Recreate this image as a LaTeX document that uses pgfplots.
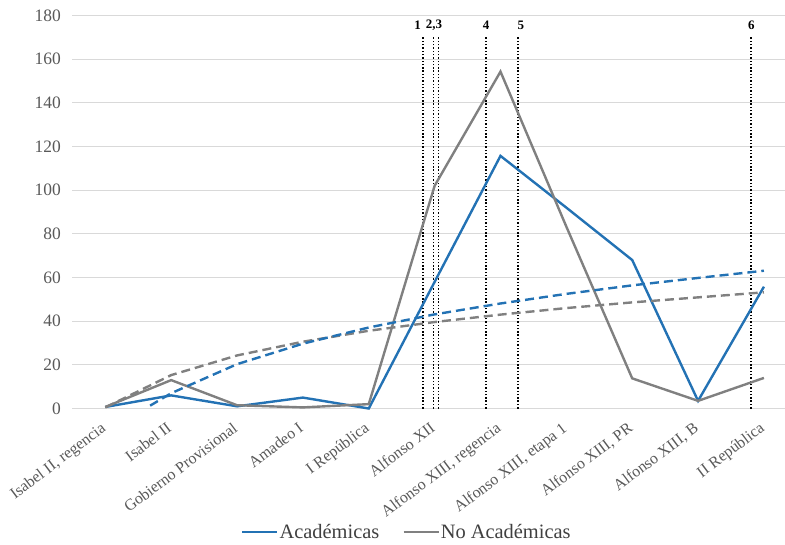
\documentclass[border=0pt]{standalone}
\usepackage{pgfplots}
\pgfplotsset{compat=1.18}
\usepackage{fontspec}
\setmainfont{Liberation Serif}
\definecolor{acad}{RGB}{35,114,180}
\definecolor{noacad}{RGB}{128,128,128}
\definecolor{gridc}{RGB}{217,217,217}
\definecolor{tickc}{RGB}{89,89,89}
\definecolor{legc}{RGB}{64,64,64}
\begin{document}
\begin{tikzpicture}
\path[use as bounding box] (0,0) rectangle (785bp,545bp);
\begin{axis}[
  at={(72bp,136.5bp)}, anchor=south west,
  scale only axis, width=713bp, height=393bp,
  xmin=-0.506, xmax=10.32, ymin=0, ymax=180,
  axis line style={draw=none},
  ymajorgrids, grid style={gridc, line width=1.2bp},
  ytick={0,20,...,180},
  xtick={0,...,10},
  xticklabels={{Isabel II, regencia}, Isabel II, Gobierno Provisional, Amadeo I, I República, Alfonso XII, {Alfonso XIII, regencia}, {Alfonso XIII, etapa 1}, {Alfonso XIII, PR}, {Alfonso XIII, B}, II República},
  /pgf/number format/assume math mode=true,
  yticklabel style={font=\fontsize{17.5}{19}\selectfont, text=tickc, anchor=east, inner sep=0pt, xshift=-11bp},
  xticklabel style={font=\fontsize{16}{18}\selectfont, text=tickc, rotate=37, anchor=north east, inner sep=0pt, yshift=-7bp, xshift=-12bp},
  major tick length=0pt,
  clip=false,
  legend columns=2,
  legend style={at={(0.2328,-0.314)}, anchor=west, draw=none, fill=none,
    font=\fontsize{20.5}{22}\selectfont, text=legc,
    nodes={inner sep=1bp},
    /tikz/every even column/.append style={column sep=22bp}},
  legend image code/.code={\draw[#1] (0bp,0bp) -- (35bp,0bp);},
]
% vertical dotted reference lines
\addplot[forget plot, black, line width=1.6bp, dash pattern=on 1.4bp off 1.9bp] coordinates {(4.82,0) (4.82,170)};
\addplot[forget plot, black, line width=1.6bp, dash pattern=on 1.4bp off 1.9bp] coordinates {(4.98,0) (4.98,170)};
\addplot[forget plot, black, line width=1.6bp, dash pattern=on 1.4bp off 1.9bp] coordinates {(5.06,0) (5.06,170)};
\addplot[forget plot, black, line width=1.6bp, dash pattern=on 1.4bp off 1.9bp] coordinates {(5.78,0) (5.78,170)};
\addplot[forget plot, black, line width=1.6bp, dash pattern=on 1.4bp off 1.9bp] coordinates {(6.27,0) (6.27,170)};
\addplot[forget plot, black, line width=1.6bp, dash pattern=on 1.4bp off 1.9bp] coordinates {(9.80,0) (9.80,170)};
% main series
\addplot[acad, line width=2.4bp, line join=miter] coordinates {
 (0,0.7) (1,6) (2,1) (3,5) (4,0) (5,58) (6,115.7) (7,92) (8,68) (9,3.5) (10,55.8)};
\addlegendentry{Académicas}
\addplot[noacad, line width=2.4bp, line join=miter] coordinates {
 (0,0.7) (1,13) (2,1.5) (3,0.5) (4,2) (5,102) (6,154.3) (7,83.3) (8,13.8) (9,3.5) (10,14)};
\addlegendentry{No Académicas}
% trend lines
\addplot[forget plot, noacad, line width=2.4bp, dash pattern=on 9bp off 5bp] coordinates {
 (0,0.5) (1,15.3) (2,24.3) (3,30.6) (4,35.6) (5,39.6) (6,43) (7,46) (8,48.6) (9,50.9) (10,53.2)};
\addplot[forget plot, acad, line width=2.4bp, dash pattern=on 9bp off 5bp] coordinates {
 (0.68,1.3) (1,7) (2,20.3) (3,29.7) (4,37.1) (5,43.1) (6,48.1) (7,52.5) (8,56.4) (9,59.8) (10,63.1)};
% labels of the reference lines
\node[font=\fontsize{13}{15}\selectfont\bfseries] at (axis cs:4.74,175.6) {1};
\node[font=\fontsize{13}{15}\selectfont\bfseries] at (axis cs:4.99,175.6) {2,3};
\node[font=\fontsize{13}{15}\selectfont\bfseries] at (axis cs:5.78,175.6) {4};
\node[font=\fontsize{13}{15}\selectfont\bfseries] at (axis cs:6.31,175.6) {5};
\node[font=\fontsize{13}{15}\selectfont\bfseries] at (axis cs:9.81,175.6) {6};
\end{axis}
\end{tikzpicture}
\end{document}
